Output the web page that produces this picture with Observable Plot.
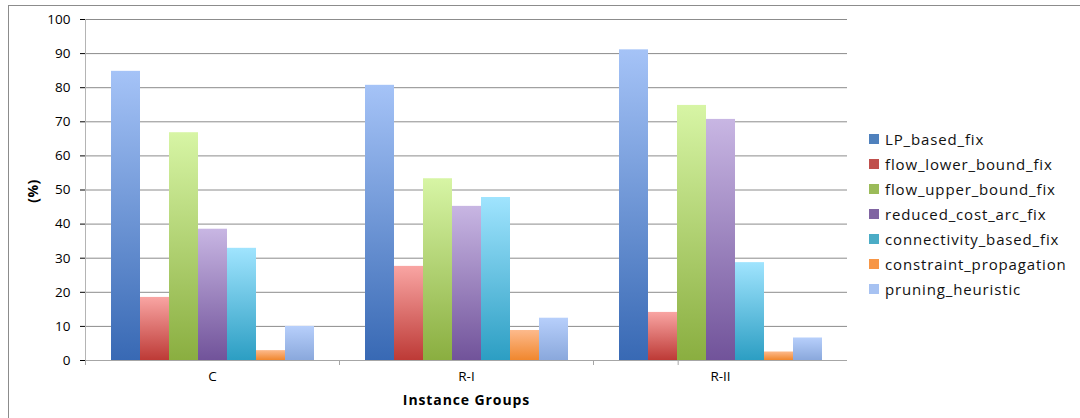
<!DOCTYPE html>
<html>
<head>
<meta charset="utf-8">
<script src="https://cdn.jsdelivr.net/npm/d3@7"></script>
<script src="https://cdn.jsdelivr.net/npm/@observablehq/plot@0.6"></script>
<style>
  body { margin: 0; background: #fff; }
  #wrap { position: relative; width: 1080px; height: 418px; overflow: hidden; font-family: "Open Sans", sans-serif; }
  #frame { position: absolute; left: 8px; top: 5px; right: -2px; bottom: -2px; border-top: 1px solid #8c8c8c; border-left: 1px solid #8c8c8c; }
  #legend { position: absolute; left: 869px; top: 126px; font-size: 15px; letter-spacing: 0.85px; color: #111; }
  #legend .row { height: 25px; display: flex; align-items: center; }
  #legend .sw { width: 10px; height: 10px; margin-right: 6px; }
  #ylabel { position: absolute; left: 32px; top: 191px; transform: translate(-50%, -50%) rotate(-90deg); font-weight: bold; font-size: 14px; letter-spacing: 0.5px; color: #000; white-space: nowrap; }
  svg [aria-label="fx-axis label"] { font-weight: bold; font-size: 14px; letter-spacing: 0.9px; }
</style>
</head>
<body>
<div id="wrap"><div id="frame"></div><div id="legend"></div><div id="ylabel">(%)</div></div>
<script>
const groups = ["C", "R-I", "R-II"];
const seriesNames = ["LP_based_fix", "flow_lower_bound_fix", "flow_upper_bound_fix", "reduced_cost_arc_fix", "connectivity_based_fix", "constraint_propagation", "pruning_heuristic"];
const LP_based_fix = [84.8, 80.7, 91.1];
const flow_lower_bound_fix = [18.5, 27.6, 14.1];
const flow_upper_bound_fix = [66.8, 53.3, 74.8];
const reduced_cost_arc_fix = [38.5, 45.2, 70.7];
const connectivity_based_fix = [32.9, 47.8, 28.7];
const constraint_propagation = [2.9, 8.8, 2.5];
const pruning_heuristic = [10.0, 12.4, 6.6];
const yTicks = [0, 10, 20, 30, 40, 50, 60, 70, 80, 90, 100];

const seriesValues = [LP_based_fix, flow_lower_bound_fix, flow_upper_bound_fix, reduced_cost_arc_fix, connectivity_based_fix, constraint_propagation, pruning_heuristic];
const gradTop = ["#a5c3f7", "#f9a5a3", "#d7f5a5", "#c8b6e3", "#a0e4fe", "#fdba8c", "#b7cffb"];
const gradBottom = ["#3869b4", "#bd3a36", "#8aae40", "#71539a", "#2c9ec3", "#f0872e", "#8aa8dc"];
const swatch = ["#4f81bd", "#c0504d", "#9bbb59", "#8064a2", "#4bacc6", "#f79646", "#a7c2f2"];

const data = [];
seriesNames.forEach((s, i) => groups.forEach((g, j) => data.push({group: g, series: s, value: seriesValues[i][j]})));

const gradIds = seriesNames.map((s, i) => "grad" + i);

let defsDone = false;
const defsMark = () => {
  const g = d3.create("svg:g");
  if (defsDone) return g.node();
  defsDone = true;
  const defs = g.append("defs");
  gradIds.forEach((id, i) => {
    const lg = defs.append("linearGradient").attr("id", id).attr("x1", 0).attr("y1", 0).attr("x2", 0).attr("y2", 1);
    lg.append("stop").attr("offset", "0%").attr("stop-color", gradTop[i]);
    lg.append("stop").attr("offset", "100%").attr("stop-color", gradBottom[i]);
  });
  return g.node();
};

// axis line and boundary ticks, drawn in each facet's local frame (facets render in domain order)
let decorCalls = 0;
const axisDecor = (index, scales, values, dimensions) => {
  const {width, marginLeft, marginRight, marginTop, height, marginBottom} = dimensions;
  const bw = (width - marginLeft - marginRight) / groups.length;
  const k = (index && index.fx !== undefined) ? groups.indexOf(index.fx) : (decorCalls++ % groups.length);
  const g = d3.create("svg:g");
  const xs = [marginLeft];
  if (k === groups.length - 1) xs.push(marginLeft + bw);
  g.selectAll("line.tk").data(xs).join("line")
    .attr("x1", d => d + 0.5).attr("x2", d => d + 0.5)
    .attr("y1", height - marginBottom).attr("y2", height - marginBottom + 5)
    .attr("stroke", "#a6a6a6");
  if (k === 0) {
    g.append("line").attr("x1", marginLeft + 0.5).attr("x2", marginLeft + 0.5)
      .attr("y1", marginTop).attr("y2", height - marginBottom)
      .attr("stroke", "#b4b4b4");
  }
  return g.node();
};

const chart = Plot.plot({
  width: 1080,
  height: 418,
  marginLeft: 84,
  marginRight: 232,
  marginTop: 19,
  marginBottom: 58,
  style: {fontFamily: "'Open Sans', sans-serif", fontSize: "13.5px", color: "#000", background: "transparent"},
  fx: {domain: groups, padding: 0, label: "Instance Groups", labelAnchor: "center", tickSize: 0, tickPadding: 11, labelOffset: 44},
  x: {domain: seriesNames, paddingInner: 0, paddingOuter: 0.75, axis: null},
  y: {domain: [0, 100], ticks: yTicks, tickSize: 5, tickPadding: 10, label: null},
  color: {domain: seriesNames, range: gradIds.map(id => `url(#${id})`)},
  marks: [
    defsMark,
    Plot.ruleY(yTicks.slice(1), {stroke: "#8c8c8c", strokeOpacity: 1}),
    Plot.barY(data, {fx: "group", x: "series", y: "value", fill: "series", insetLeft: 0, insetRight: 0}),
    Plot.ruleY([0], {stroke: "#a6a6a6", strokeOpacity: 1}),
    axisDecor
  ]
});

const wrap = document.getElementById("wrap");
chart.style.position = "absolute";
chart.style.left = "0px";
chart.style.top = "0px";
wrap.insertBefore(chart, document.getElementById("legend"));

const legend = d3.select("#legend");
seriesNames.forEach((s, i) => {
  const row = legend.append("div").attr("class", "row");
  row.append("div").attr("class", "sw").style("background", swatch[i]);
  row.append("span").text(s);
});
</script>
</body>
</html>
